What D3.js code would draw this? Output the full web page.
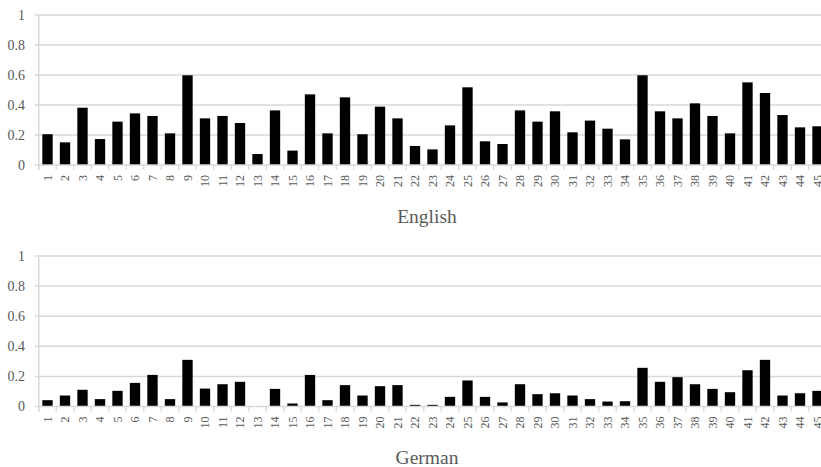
<!DOCTYPE html>
<html><head><meta charset="utf-8">
<script src="https://cdn.jsdelivr.net/npm/d3@7"></script>
<style>body{margin:0;background:#fff}svg{display:block}</style>
</head><body>
<svg id="c" width="821" height="467"></svg>
<script>
const categories = d3.range(1, 46).map(String);
const englishValues = [0.205,0.151,0.382,0.173,0.289,0.344,0.327,0.211,0.598,0.311,0.327,0.28,0.073,0.364,0.096,0.471,0.211,0.451,0.205,0.389,0.311,0.127,0.104,0.264,0.518,0.158,0.14,0.364,0.289,0.358,0.218,0.296,0.242,0.171,0.598,0.358,0.311,0.411,0.327,0.211,0.551,0.48,0.333,0.251,0.258];
const germanValues = [0.042,0.073,0.111,0.049,0.104,0.157,0.21,0.049,0.31,0.119,0.148,0.164,0,0.117,0.02,0.21,0.042,0.142,0.073,0.135,0.142,0.011,0.011,0.064,0.173,0.064,0.027,0.148,0.082,0.088,0.073,0.049,0.033,0.035,0.257,0.164,0.195,0.148,0.117,0.095,0.241,0.31,0.073,0.088,0.104];
const yTicks = [0, 0.2, 0.4, 0.6, 0.8, 1];
const panels = [
  {title: "English", values: englishValues, top: 15, bottom: 165, titleY: 222.5},
  {title: "German", values: germanValues, top: 256, bottom: 406.5, titleY: 463.5}
];

const svg = d3.select("#c");
const left = 38.75, right = 826.25;
const x = d3.scaleBand().domain(categories).range([left, right]).paddingInner(0.41).paddingOuter(0.205);
const grid = "#d9d9d9", txt = "#595959";
const font = "'Liberation Serif', serif";

panels.forEach(p => {
  const y = d3.scaleLinear().domain([0, 1]).range([p.bottom, p.top]);
  const g = svg.append("g");
  // gridlines
  g.selectAll("line.grid").data(yTicks.slice(1)).join("line")
    .attr("x1", left - 4).attr("x2", 821)
    .attr("y1", d => y(d)).attr("y2", d => y(d))
    .attr("stroke", grid).attr("stroke-width", 1.5);
  // left axis line
  g.append("line").attr("x1", left).attr("x2", left)
    .attr("y1", y(1)).attr("y2", y(0) + 5)
    .attr("stroke", grid).attr("stroke-width", 1.5);
  // y labels
  g.selectAll("text.yl").data(yTicks).join("text")
    .attr("x", 25).attr("y", d => y(d)).attr("dy", "0.35em")
    .attr("text-anchor", "end").attr("fill", txt)
    .attr("font-family", font).attr("font-size", 14)
    .text(d => d3.format("")(d));
  // bars
  g.selectAll("rect").data(p.values).join("rect")
    .attr("x", (d, i) => x(categories[i]))
    .attr("width", x.bandwidth())
    .attr("y", d => y(d)).attr("height", d => y(0) - y(d))
    .attr("fill", "#000");
  // x axis line
  g.append("line").attr("x1", left - 4).attr("x2", 821)
    .attr("y1", y(0)).attr("y2", y(0)).attr("stroke", grid).attr("stroke-width", 1.5);
  // category boundary ticks
  const step = x.step();
  g.selectAll("line.tk").data(d3.range(0, categories.length + 1)).join("line")
    .attr("x1", i => left + i * step).attr("x2", i => left + i * step)
    .attr("y1", y(0)).attr("y2", y(0) + 5)
    .attr("stroke", grid).attr("stroke-width", 1.3);
  // x labels
  g.selectAll("text.xl").data(categories).join("text")
    .attr("transform", d => `translate(${x(d) + x.bandwidth() / 2},${y(0) + 10}) rotate(-90)`)
    .attr("dy", "0.35em").attr("text-anchor", "end")
    .attr("fill", txt).attr("font-family", font).attr("font-size", 12)
    .text(d => d);
  // title
  svg.append("text").attr("x", 427).attr("y", p.titleY)
    .attr("text-anchor", "middle").attr("fill", txt)
    .attr("font-family", font).attr("font-size", 19.5)
    .text(p.title);
});
</script>
</body></html>
